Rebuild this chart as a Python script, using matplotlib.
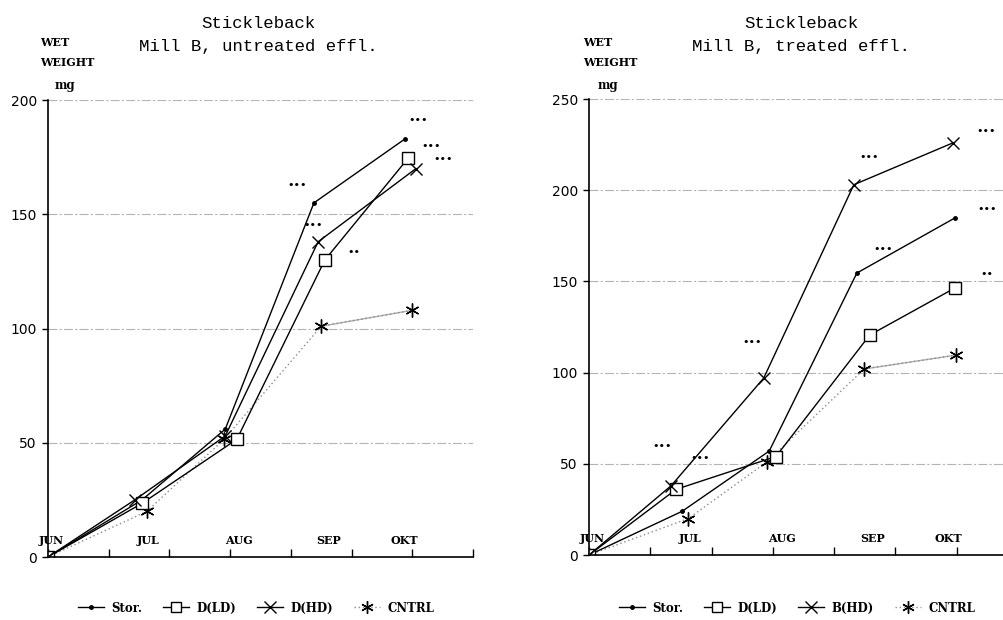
#Plot: Stickleback wet weight, Mill B untreated / treated effluent
import matplotlib.pyplot as plt
from matplotlib.lines import Line2D

# month labels along the x axis (axis units = tick intervals)
months = ["JUN", "JUL", "AUG", "SEP", "OKT"]
month_pos = [0.05, 1.65, 3.15, 4.62, 5.87]

# left panel: untreated effluent
stor_x_u = [0, 1.55, 2.92, 4.38, 5.88]
stor_y_u = [0, 25, 56, 155, 183]
ld_x_u = [0, 1.55, 3.11, 4.56, 5.93]
ld_y_u = [0, 23.5, 51.5, 130, 174.5]
hd_x_u = [0, 1.43, 2.92, 4.45, 6.06]
hd_y_u = [0, 25, 53, 138, 170]
ctrl_x_u = [0, 1.63, 2.90, 4.50, 6.00]
ctrl_y_u = [0, 20, 51.5, 101, 108]
sig_x_u = [4.10, 4.37, 5.04, 6.10, 6.31, 6.51]
sig_y_u = [162.8, 145.3, 133.5, 191.2, 179.9, 174.2]
sig_t_u = ["•••", "•••", "••", "•••", "•••", "•••"]

# right panel: treated effluent
stor_x_t = [0, 1.52, 2.94, 4.37, 5.97]
stor_y_t = [0, 24, 57, 154.6, 184.8]
ld_x_t = [0, 1.42, 3.05, 4.58, 5.97]
ld_y_t = [0, 36, 54, 120.6, 146.4]
hd_x_t = [0, 1.34, 2.85, 4.32, 5.94]
hd_y_t = [0, 38, 97, 203, 226]
ctrl_x_t = [0, 1.62, 2.90, 4.49, 5.99]
ctrl_y_t = [0, 20, 51, 102, 109.6]
sig_x_t = [1.19, 1.81, 2.66, 4.57, 4.80, 6.48, 6.49, 6.49]
sig_y_t = [59.8, 53.2, 116.8, 218.2, 167.8, 232.5, 189.7, 154.1]
sig_t_t = ["•••", "•••", "•••", "•••", "•••", "•••", "•••", "••"]

serif = "DejaVu Serif"
W, H = 1004, 620

fig = plt.figure(figsize=(10.04, 6.2), dpi=100)
ax1 = fig.add_axes([0.0478, 0.1016, 0.4233, 0.737])
ax2 = fig.add_axes([0.5867, 0.1048, 0.4273, 0.7355])


def draw_panel(ax, ymax, sx, sy, lx, ly, hx, hy, cx, cy, gx, gy, gt):
    # control: dotted up to SEP, grey line for the last step
    ax.plot(cx[-2:], cy[-2:], color="#b0b0b0", linewidth=1.0)
    ax.plot(cx, cy, color="#8a8a8a", linestyle=(0, (1, 2)), linewidth=1.0,
            marker=(6, 2, 0), markersize=10, markeredgecolor="black", markeredgewidth=1.0)
    ax.plot(sx, sy, color="black", linewidth=1.0, marker="o", markersize=2.5)
    ax.plot(lx, ly, color="black", linewidth=1.0, marker="s", markersize=8,
            markerfacecolor="white", markeredgecolor="black", markeredgewidth=1.0)
    ax.plot(hx, hy, color="black", linewidth=1.0, marker="x", markersize=9, markeredgewidth=1.0)
    for x, y, t in zip(gx, gy, gt):
        ax.text(x, y, t, fontsize=8, ha="center", va="center", color="black")

    ax.set_xlim(0, 7)
    ax.set_ylim(0, ymax)
    ax.set_xticks(range(8))
    ax.set_xticklabels([])
    ax.set_yticks(range(0, ymax + 1, 50))
    ax.tick_params(axis="x", direction="in", length=6, width=1)
    ax.tick_params(axis="y", direction="out", length=4, width=1, labelsize=10, pad=4)
    for g in range(50, ymax + 1, 50):
        ax.axhline(g, color="#b4b4b4", linewidth=0.8, linestyle=(0, (8, 2, 2, 2)), zorder=0)
    ax.spines["top"].set_visible(False)
    ax.spines["right"].set_visible(False)
    ax.spines["left"].set_linewidth(1.2)
    ax.spines["bottom"].set_linewidth(1.2)
    ax.patch.set_alpha(0)
    for m, p in zip(months, month_pos):
        ax.annotate(m, (p, 0), xytext=(0, 8), textcoords="offset points",
                    ha="center", va="bottom", fontsize=8, fontweight="bold", family=serif)

    handles = [
        Line2D([], [], color="black", linewidth=1.0, marker="o", markersize=2.5),
        Line2D([], [], color="black", linewidth=1.0, marker="s", markersize=7,
               markerfacecolor="white"),
        Line2D([], [], color="black", linewidth=1.0, marker="x", markersize=8),
        Line2D([], [], color="#8a8a8a", linestyle=(0, (1, 2)), linewidth=1.0,
               marker=(6, 2, 0), markersize=9, markeredgecolor="black"),
    ]
    return handles


def header(cx, lx, line2):
    fig.text(cx / W, 1 - 23 / H, "Stickleback", ha="center", va="center",
             fontsize=12.5, family="Liberation Mono")
    fig.text(cx / W, 1 - 47 / H, line2, ha="center", va="center",
             fontsize=12.5, family="Liberation Mono")
    fig.text(lx / W, 1 - 43 / H, "WET", ha="left", va="center",
             fontsize=8, fontweight="bold", family=serif)
    fig.text(lx / W, 1 - 62 / H, "WEIGHT", ha="left", va="center",
             fontsize=8, fontweight="bold", family=serif)
    fig.text((lx + 15) / W, 1 - 86 / H, "mg", ha="left", va="center",
             fontsize=8.5, fontweight="bold", family=serif)


legend_kw = dict(loc="center", ncol=4, frameon=False, handlelength=2.2,
                 columnspacing=1.8, handletextpad=0.6,
                 prop={"family": serif, "weight": "bold", "size": 8.5})

h = draw_panel(ax1, 200, stor_x_u, stor_y_u, ld_x_u, ld_y_u, hd_x_u, hd_y_u,
               ctrl_x_u, ctrl_y_u, sig_x_u, sig_y_u, sig_t_u)
header(258, 40, "Mill B, untreated effl.")
fig.legend(h, ["Stor.", "D(LD)", "D(HD)", "CNTRL"],
           bbox_to_anchor=(256 / W, 1 - 608 / H), **legend_kw)

h = draw_panel(ax2, 250, stor_x_t, stor_y_t, ld_x_t, ld_y_t, hd_x_t, hd_y_t,
               ctrl_x_t, ctrl_y_t, sig_x_t, sig_y_t, sig_t_t)
header(801, 583, "Mill B, treated effl.")
fig.legend(h, ["Stor.", "D(LD)", "B(HD)", "CNTRL"],
           bbox_to_anchor=(797 / W, 1 - 608 / H), **legend_kw)

fig.savefig("out.png", dpi=100, facecolor="white")
